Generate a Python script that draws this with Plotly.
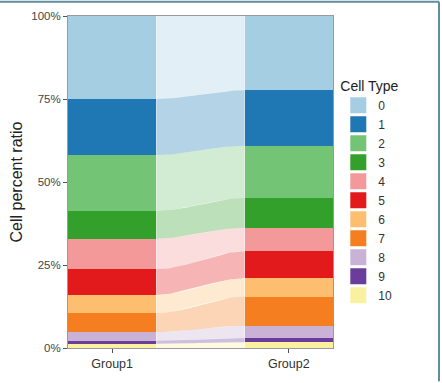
import numpy as np
import plotly.graph_objects as go

cell_types = ["0", "1", "2", "3", "4", "5", "6", "7", "8", "9", "10"]
groups = ["Group1", "Group2"]
group1_pct = [25.0, 16.9, 16.8, 8.4, 9.2, 7.7, 5.5, 5.7, 2.6, 0.9, 1.3]
group2_pct = [22.4, 16.7, 15.7, 9.0, 7.1, 8.1, 5.5, 8.8, 3.7, 1.3, 1.7]
colors = ["#A6CEE3", "#1F78B4", "#74C476", "#33A02C", "#F4999A", "#E31A1C",
          "#FDBF6F", "#F57F20", "#C9B2D6", "#6A3D9A", "#F9F1A0"]
y_ticks = [0, 0.25, 0.5, 0.75, 1.0]
y_ticklabels = ["0%", "25%", "50%", "75%", "100%"]

xpos = [1, 2]
bar_w = 0.5


def stack(vals):
    fr = np.array(vals) / 100.0
    tops = 1.0 - np.concatenate([[0], np.cumsum(fr)[:-1]])
    bottoms = tops - fr
    return fr, tops, bottoms


f1, t1, b1 = stack(group1_pct)
f2, t2, b2 = stack(group2_pct)


def hex_rgba(h, a):
    h = h.lstrip("#")
    return "rgba(%d,%d,%d,%.2f)" % (int(h[0:2], 16), int(h[2:4], 16), int(h[4:6], 16), a)


fig = go.Figure()

# flows
t = np.linspace(0, 1, 60)
s = 3 * t ** 2 - 2 * t ** 3
xs = xpos[0] + bar_w / 2 + (xpos[1] - xpos[0] - bar_w) * t
for i, ct in enumerate(cell_types):
    top = t1[i] + (t2[i] - t1[i]) * s
    bot = b1[i] + (b2[i] - b1[i]) * s
    fig.add_trace(go.Scatter(
        x=np.concatenate([xs, xs[::-1]]),
        y=np.concatenate([top, bot[::-1]]),
        fill="toself", mode="lines", line=dict(width=0),
        fillcolor=hex_rgba(colors[i], 0.33),
        hoverinfo="skip", showlegend=False))

# bars
for i, ct in enumerate(cell_types):
    fig.add_trace(go.Bar(
        x=xpos, y=[f1[i], f2[i]], base=[b1[i], b2[i]], width=bar_w,
        marker=dict(color=colors[i], line=dict(width=0)),
        name=ct, showlegend=False))

# legend keys
for i, ct in enumerate(cell_types):
    fig.add_trace(go.Scatter(
        x=[None], y=[None], mode="markers", name=ct,
        marker=dict(symbol="square", size=16, color=colors[i]),
        showlegend=True))

fig.update_layout(
    width=442, height=383,
    margin=dict(l=68, r=109, t=16, b=33),
    plot_bgcolor="white", paper_bgcolor="white",
    barmode="overlay", bargap=0,
    font=dict(family="Liberation Sans, Arial, sans-serif", color="#333333"),
    legend=dict(
        title=dict(text="Cell Type", font=dict(size=14, color="#222222")),
        font=dict(size=12, color="#333333"),
        x=1.02, xanchor="left", y=0.83, yanchor="top",
        tracegroupgap=0, itemsizing="trace",
        bgcolor="rgba(0,0,0,0)"),
    xaxis=dict(
        range=[0.75, 2.25], tickvals=xpos, ticktext=groups,
        showgrid=False, zeroline=False, showline=True, mirror=True,
        linecolor="#9a9a9a", linewidth=1,
        ticks="outside", ticklen=4, tickcolor="#555555",
        tickfont=dict(size=12.5, color="#333333")),
    yaxis=dict(
        range=[0, 1], tickvals=y_ticks, ticktext=y_ticklabels,
        showgrid=False, zeroline=False, showline=True, mirror=True,
        linecolor="#9a9a9a", linewidth=1, automargin=False,
        ticks="outside", ticklen=4, tickcolor="#555555",
        tickfont=dict(size=11.5, color="#444444"),
        title=dict(text="Cell percent ratio", font=dict(size=16, color="#222222"), standoff=4)),
    shapes=[
        dict(type="line", xref="paper", yref="paper", x0=-0.26, x1=1.40, y0=1.043, y1=1.043,
             line=dict(color="#5f8e9c", width=2)),
        dict(type="line", xref="paper", yref="paper", x0=1.40, x1=1.40, y0=1.043, y1=-0.1,
             line=dict(color="#5f8e9c", width=2)),
    ],
)

fig.write_html("out.html", post_script="document.body.style.margin='0';",
               config={"displayModeBar": False})
